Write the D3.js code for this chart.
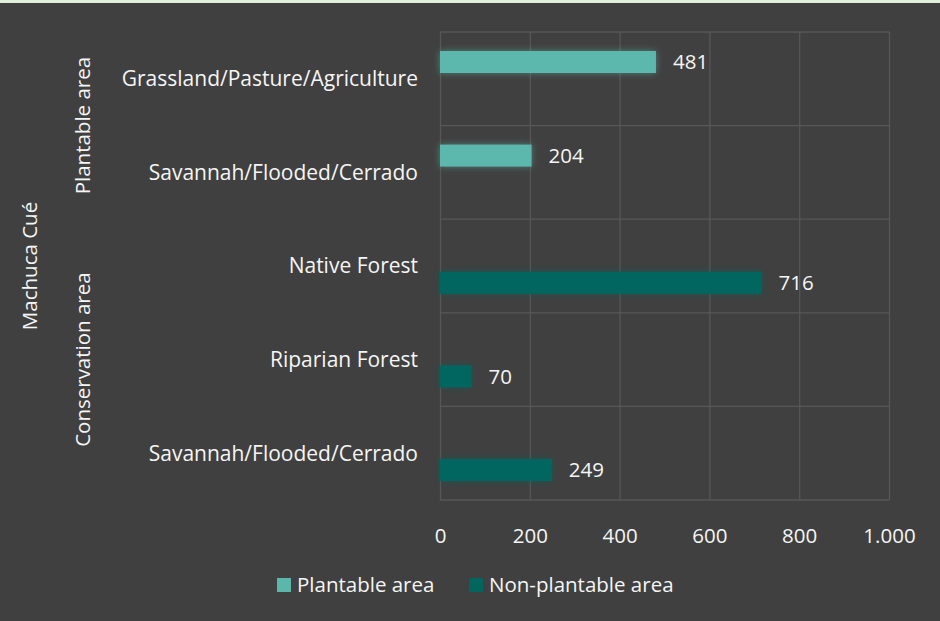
<!DOCTYPE html>
<html>
<head>
<meta charset="utf-8">
<script src="https://cdn.jsdelivr.net/npm/d3@7"></script>
<style>
  html, body { margin: 0; padding: 0; background: #404040; }
  svg { display: block; }
  text { font-family: "Open Sans", "Noto Sans", sans-serif; fill: #f5f5f5; }
</style>
</head>
<body>
<svg id="chart" width="940" height="621"></svg>
<script>
// ---- data ----
const groups = ["Plantable area", "Plantable area", "Conservation area", "Conservation area", "Conservation area"];
const categories = ["Grassland/Pasture/Agriculture", "Savannah/Flooded/Cerrado", "Native Forest", "Riparian Forest", "Savannah/Flooded/Cerrado"];
const plantable = [481, 204, null, null, null];
const nonPlantable = [null, null, 716, 70, 249];
const seriesNames = ["Plantable area", "Non-plantable area"];
const topLabel = "Machuca Cué";
const xTicks = [0, 200, 400, 600, 800, 1000];
const colors = ["#5bb7ac", "#02665e"];

// ---- layout ----
const W = 940, H = 621;
const plot = { left: 440, right: 889, top: 32, bottom: 500 };
const FS = 20.5;
const svg = d3.select("#chart");

svg.append("rect").attr("x", 0).attr("y", 0).attr("width", W).attr("height", H).attr("fill", "#404040");
svg.append("rect").attr("x", 0).attr("y", 0).attr("width", W).attr("height", 3).attr("fill", "#e2efda");

const defs = svg.append("defs");
const glow = defs.append("filter").attr("id", "glow").attr("x", "-20%").attr("y", "-60%").attr("width", "140%").attr("height", "220%");
glow.append("feGaussianBlur").attr("in", "SourceGraphic").attr("stdDeviation", 3.5).attr("result", "blur");
glow.append("feComponentTransfer").attr("in", "blur").attr("result", "fade")
  .append("feFuncA").attr("type", "linear").attr("slope", 0.55);
const merge = glow.append("feMerge");
merge.append("feMergeNode").attr("in", "fade");
merge.append("feMergeNode").attr("in", "SourceGraphic");

const x = d3.scaleLinear().domain([0, 1000]).range([plot.left, plot.right]);
const idx = d3.range(categories.length);
const y = d3.scaleBand().domain(idx).range([plot.top, plot.bottom]).padding(0);
const ySub = d3.scaleBand().domain([0, 1]).range([0, y.bandwidth()]).paddingInner(0.345).paddingOuter(0.565);

const gridColor = "#575757";
const xAxis = d3.axisBottom(x).tickValues(xTicks)
  .tickSize(-(plot.bottom - plot.top))
  .tickFormat(d => d3.format(",")(d).replace(/,/g, "."));
const gx = svg.append("g").attr("transform", `translate(0,${plot.bottom})`).call(xAxis);
gx.select(".domain").remove();
gx.selectAll(".tick line").attr("stroke", gridColor).attr("stroke-width", 1.3);
gx.selectAll(".tick text").attr("y", 28).attr("font-size", FS).style("font-family", "'Open Sans', sans-serif").attr("fill", "#f5f5f5");

const bounds = idx.map(i => y(i)).concat([plot.bottom]);
svg.append("g").selectAll("line").data(bounds).join("line")
  .attr("x1", plot.left).attr("x2", plot.right)
  .attr("y1", d => d).attr("y2", d => d)
  .attr("stroke", gridColor).attr("stroke-width", 1.3);

const series = [plantable, nonPlantable];
series.forEach((vals, s) => {
  const data = idx.filter(i => vals[i] != null).map(i => ({ i, v: vals[i] }));
  const g = svg.append("g");
  g.selectAll("rect").data(data).join("rect")
    .attr("x", x(0))
    .attr("y", d => y(d.i) + ySub(s))
    .attr("width", d => x(d.v) - x(0))
    .attr("height", ySub.bandwidth())
    .attr("fill", colors[s])
    .attr("filter", "url(#glow)");
  g.selectAll("text").data(data).join("text")
    .attr("x", d => x(d.v) + 17)
    .attr("y", d => y(d.i) + ySub(s) + ySub.bandwidth() / 2)
    .attr("dy", "0.35em")
    .attr("font-size", FS)
    .text(d => d.v);
});

svg.append("g").selectAll("text").data(idx).join("text")
  .attr("x", 418)
  .attr("y", i => y(i) + y.bandwidth() / 2)
  .attr("dy", "0.35em")
  .attr("text-anchor", "end")
  .attr("font-size", 21)
  .text(i => categories[i]);

const groupNames = Array.from(new Set(groups));
groupNames.forEach(gname => {
  const members = idx.filter(i => groups[i] === gname);
  const y0 = y(members[0]), y1 = y(members[members.length - 1]) + y.bandwidth();
  const cy = (y0 + y1) / 2;
  svg.append("text")
    .attr("transform", `translate(83,${cy}) rotate(-90)`)
    .attr("text-anchor", "middle")
    .attr("dy", "0.35em")
    .attr("font-size", FS)
    .text(gname);
});
svg.append("text")
  .attr("transform", `translate(30,${(plot.top + plot.bottom) / 2}) rotate(-90)`)
  .attr("text-anchor", "middle")
  .attr("dy", "0.35em")
  .attr("font-size", FS)
  .text(topLabel);

const legendX = [277, 469];
seriesNames.forEach((name, s) => {
  const lg = svg.append("g").attr("transform", `translate(${legendX[s]},585)`);
  lg.append("rect").attr("x", 0).attr("y", -7).attr("width", 14).attr("height", 14).attr("fill", colors[s]);
  lg.append("text").attr("x", 20).attr("dy", "0.35em").attr("font-size", FS).text(name);
});
</script>
</body>
</html>
